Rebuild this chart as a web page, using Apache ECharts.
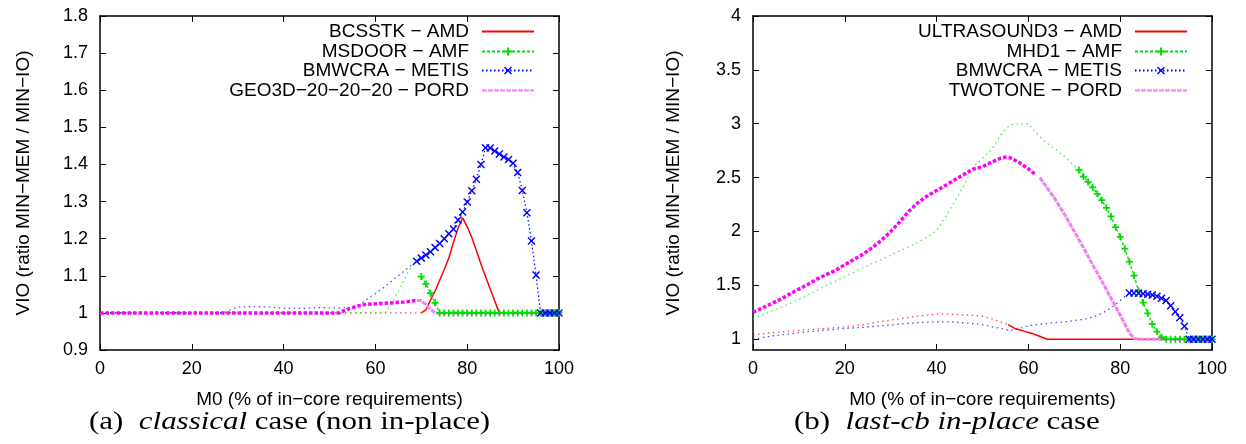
<!DOCTYPE html>
<html>
<head>
<meta charset="utf-8">
<script src="https://cdn.jsdelivr.net/npm/echarts@6/dist/echarts.min.js"></script>
<style>html,body{margin:0;padding:0;background:#fff;}#c{width:1246px;height:444px;}</style>
</head>
<body>
<div id="c"></div>
<script>
// ---------- DATA ----------
const xTicks = [0, 20, 40, 60, 80, 100];
const leftYTicks = [0.9, 1, 1.1, 1.2, 1.3, 1.4, 1.5, 1.6, 1.7, 1.8];
const rightYTicks = [1, 1.5, 2, 2.5, 3, 3.5, 4];

const leftNames = ['BCSSTK − AMD', 'MSDOOR − AMF', 'BMWCRA − METIS', 'GEO3D−20−20−20 − PORD'];
const rightNames = ['ULTRASOUND3 − AMD', 'MHD1 − AMF', 'BMWCRA − METIS', 'TWOTONE − PORD'];

// Panel (a) classical case
const aRedDot = [[0,1],[70,1]];
const aRedMain = [[70,1.0],[71,1.008],[72,1.034],[73,1.059],[74,1.088],[75,1.117],[76,1.148],[77,1.19],[78,1.228],[79,1.256],[80,1.232],[81,1.203],[82,1.168],[83,1.132],[84,1.098],[85,1.065],[86,1.032],[87,1.0],[100,1.0]];
const aGreenDot = [[0,1],[62,1],[63,1.015],[64,1.035],[65,1.058],[66,1.083],[67,1.107],[68,1.128],[69,1.14]];
const aGreenMain = [[70,1.098],[71,1.078],[72,1.053],[73,1.027],[74,1.0],[75,1.0],[76,1.0],[77,1.0],[78,1.0],[79,1.0],[80,1.0],[81,1.0],[82,1.0],[83,1.0],[84,1.0],[85,1.0],[86,1.0],[87,1.0],[88,1.0],[89,1.0],[90,1.0],[91,1.0],[92,1.0],[93,1.0],[94,1.0],[95,1.0],[96,1.0],[97,1.0],[98,1.0],[99,1.0],[100,1.0]];
const aBlueDot = [[0,1],[27,1],[28,1.006],[29,1.011],[30,1.016],[34,1.017],[37,1.016],[40,1.012],[44,1.012],[48,1.014],[52,1.013],[55,1.014],[56,1.02],[57,1.026],[58,1.035],[59,1.044],[60,1.052],[61,1.061],[62,1.07],[63,1.08],[64,1.091],[65,1.1],[66,1.11],[67,1.12],[68,1.13],[69,1.139]];
const aBlueMain = [[69,1.139],[70,1.148],[71,1.156],[72,1.165],[73,1.176],[74,1.187],[75,1.2],[76,1.213],[77,1.226],[78,1.25],[79,1.272],[80,1.299],[81,1.329],[82,1.36],[83,1.4],[84,1.445],[85,1.444],[86,1.436],[87,1.428],[88,1.42],[89,1.413],[90,1.403],[91,1.378],[92,1.33],[93,1.27],[94,1.194],[95,1.102],[96,1.0],[97,1.0],[98,1.0],[99,1.0],[100,1.0]];
const aMagDot = [[0,1],[52,1],[54,1.01],[56,1.018],[58,1.023],[62,1.026],[66,1.029],[69,1.034]];
const aMagMain = [[69,1.034],[70,1.033],[71,1.022],[72,1.01],[73,1.0],[100,1.0]];

// Panel (b) last-cb in-place case
const bRedDot = [[0,1.04],[4,1.06],[8,1.075],[12,1.09],[16,1.1],[20,1.115],[24,1.135],[28,1.165],[32,1.19],[36,1.215],[40,1.232],[42,1.235],[45,1.228],[48,1.222],[50,1.212],[52,1.19],[54,1.16],[55.6,1.135]];
const bRedMain = [[55.6,1.135],[56,1.125],[57,1.1],[58,1.088],[59,1.075],[60,1.062],[61,1.05],[62,1.035],[63,1.018],[64,1.0],[100,1.0]];
const bGreenDot = [[0,1.19],[4,1.26],[8,1.33],[12,1.41],[16,1.5],[20,1.58],[24,1.665],[28,1.74],[32,1.82],[36,1.9],[38,1.95],[40,2.01],[42,2.14],[44,2.28],[46,2.43],[48,2.6],[50,2.68],[52,2.76],[54,2.9],[56,2.99],[58,3.0],[60,3.0],[62,2.9],[64,2.82],[66,2.76],[68,2.69],[70,2.61],[71,2.57]];
const bGreenMain = [[71,2.57],[72,2.51],[73,2.46],[74,2.41],[75,2.35],[76,2.29],[77,2.22],[78,2.14],[79,2.04],[80,1.95],[81,1.84],[82,1.72],[83,1.59],[84,1.45],[85,1.34],[86,1.24],[87,1.14],[88,1.07],[89,1.02],[90,1.0],[91,1.0],[92,1.0],[93,1.0],[94,1.0],[95,1.0],[96,1.0],[97,1.0],[98,1.0],[99,1.0],[100,1.0]];
const bBlueDot = [[0,1.0],[4,1.03],[8,1.05],[12,1.07],[16,1.085],[20,1.1],[24,1.11],[28,1.125],[32,1.14],[36,1.155],[40,1.162],[44,1.16],[48,1.145],[50,1.135],[52,1.118],[54,1.1],[56,1.08],[58,1.1],[60,1.125],[64,1.147],[68,1.162],[72,1.185],[74,1.205],[76,1.24],[78,1.29],[80,1.36],[82,1.43]];
const bBlueMain = [[82,1.43],[83,1.43],[84,1.427],[85,1.422],[86,1.417],[87,1.41],[88,1.398],[89,1.38],[90,1.36],[91,1.31],[92,1.255],[93,1.2],[94,1.12],[95,1.0],[96,1.0],[97,1.0],[98,1.0],[99,1.0],[100,1.0]];
const bMagDot = [[0,1.25],[2,1.29],[4,1.33],[6,1.37],[8,1.42],[10,1.465],[12,1.51],[14,1.56],[16,1.6],[18,1.64],[20,1.69],[22,1.74],[24,1.79],[26,1.85],[28,1.92],[30,2.0],[32,2.09],[34,2.19],[36,2.27],[38,2.33],[40,2.38],[42,2.43],[44,2.48],[46,2.53],[48,2.58],[50,2.6],[52,2.645],[54,2.68],[55,2.69],[56,2.685],[58,2.64],[60,2.58],[61.5,2.53]];
const bMagMain = [[62.5,2.5],[64,2.41],[66,2.29],[68,2.15],[70,2.0],[72,1.85],[74,1.69],[76,1.54],[78,1.38],[80,1.225],[81,1.14],[82,1.06],[83,1.01],[84,1.0],[100,1.0]];

// ---------- STYLE ----------
const SANS = '"Liberation Sans", Arial, Helvetica, sans-serif';
const SERIF = '"Liberation Serif", "Times New Roman", serif';
const FS = 18;
const NFS = 19;
const RED = '#ff0000', GREEN = '#00dd00', BLUE = '#0000ff', MAG = '#ff00ff', PINK = '#f080f0';
const PLUS = 'path://M3,0H5V3H8V5H5V8H3V5H0V3H3Z';
const XMARK = 'path://M0,1L1,0L4,3L7,0L8,1L5,4L8,7L7,8L4,5L1,8L0,7L3,4Z';

function xAx(grid, top, name) {
  return {
    gridIndex: grid, type: 'value', min: 0, max: 100, interval: 20,
    position: top ? 'top' : 'bottom',
    axisLine: { show: true, onZero: false, lineStyle: { color: '#000', width: 1.5 } },
    axisTick: { show: true, inside: true, length: 6, lineStyle: { color: '#000', width: 1 } },
    axisLabel: { show: !top, color: '#000', fontSize: FS, fontFamily: SANS, margin: 10 },
    splitLine: { show: false },
    name: top ? '' : name, nameLocation: 'middle', nameGap: 40,
    nameTextStyle: { color: '#000', fontSize: NFS, fontFamily: SANS }
  };
}
function yAx(grid, right, opts) {
  const a = {
    gridIndex: grid, type: 'value', position: right ? 'right' : 'left',
    min: opts.min, max: opts.max,
    axisLine: { show: true, onZero: false, lineStyle: { color: '#000', width: 1.5 } },
    axisTick: { show: true, inside: true, length: 6, lineStyle: { color: '#000', width: 1 } },
    axisLabel: { show: !right, color: '#000', fontSize: FS, fontFamily: SANS, margin: 12 },
    splitLine: { show: false },
    name: right ? '' : 'VIO (ratio MIN−MEM / MIN−IO)', nameLocation: 'middle', nameGap: opts.gap,
    nameTextStyle: { color: '#000', fontSize: NFS, fontFamily: SANS }
  };
  if (opts.interval) a.interval = opts.interval;
  if (opts.custom) {
    a.axisLabel.customValues = opts.custom;
    a.axisTick.customValues = opts.custom;
  }
  return a;
}

function dotS(name, data, xi, yi, color) {
  return { name, type: 'line', xAxisIndex: xi, yAxisIndex: yi, data, symbol: 'none', z: 1,
    lineStyle: { color, width: 1.3, type: [1.5, 3.5], opacity: 0.7 }, silent: true };
}
function magDot(name, data, xi, yi) {
  return { name, type: 'line', xAxisIndex: xi, yAxisIndex: yi, data, symbol: 'none', z: 2,
    lineStyle: { color: MAG, width: 3.5, type: [3.5, 2] } };
}
function redMain(name, data, xi, yi) {
  return { name, type: 'line', xAxisIndex: xi, yAxisIndex: yi, data, symbol: 'none', z: 3,
    itemStyle: { color: RED }, lineStyle: { color: RED, width: 1.5 } };
}
function magMain(name, data, xi, yi) {
  return { name, type: 'line', xAxisIndex: xi, yAxisIndex: yi, data, symbol: 'none', z: 4,
    itemStyle: { color: PINK }, lineStyle: { color: PINK, width: 3, type: [5, 1] } };
}
function greenMain(name, data, xi, yi) {
  return { name, type: 'line', xAxisIndex: xi, yAxisIndex: yi, data, symbol: PLUS, symbolSize: 7,
    showAllSymbol: true, z: 5,
    itemStyle: { color: GREEN }, lineStyle: { color: GREEN, width: 1.3, type: [3, 2] } };
}
function blueMain(name, data, xi, yi) {
  return { name, type: 'line', xAxisIndex: xi, yAxisIndex: yi, data, symbol: XMARK, symbolSize: 8,
    showAllSymbol: true, z: 6,
    itemStyle: { color: BLUE }, lineStyle: { color: BLUE, width: 1.2, type: [1.5, 2.5] } };
}

const legendCenters = [32, 52, 71, 91];
const noSymbol = [true, false, false, true];
function legendItems(names, right) {
  return names.map((n, i) => ({
    data: [noSymbol[i] ? { name: n, itemStyle: { opacity: 0 } } : n],
    orient: 'horizontal', right: right, top: legendCenters[i] - 10, padding: 0,
    align: 'right', itemWidth: 52, itemHeight: 10, selectedMode: false,
    textStyle: { color: '#000', fontSize: NFS, fontFamily: SANS, padding: [0, 8, 0, 0] }
  }));
}

function caption(x, label, italic, rest) {
  return {
    type: 'text', x: x, y: 409, scaleX: 1.19, silent: true,
    style: {
      text: '{n|' + label + '}{i|' + italic + '}{n|' + rest + '}',
      rich: {
        n: { fontFamily: SERIF, fontSize: 26, fill: '#000', fontStyle: 'normal' },
        i: { fontFamily: SERIF, fontSize: 26, fill: '#000', fontStyle: 'italic' }
      },
      fill: '#000'
    }
  };
}

const option = {
  animation: false,
  backgroundColor: '#fff',
  graphic: [
    caption(89, '(a)  ', 'classical', ' case (non in-place)'),
    caption(794, '(b)  ', 'last-cb in-place', ' case')
  ],
  grid: [
    { left: 100, right: 687, top: 16, bottom: 94, containLabel: false },
    { left: 753, right: 34, top: 16, bottom: 94, containLabel: false }
  ],
  xAxis: [
    xAx(0, false, 'M0 (% of in−core requirements)'), xAx(0, true),
    xAx(1, false, 'M0 (% of in−core requirements)'), xAx(1, true)
  ],
  yAxis: [
    yAx(0, false, { min: 0.9, max: 1.8, interval: 0.1, gap: 67 }),
    yAx(0, true, { min: 0.9, max: 1.8, interval: 0.1 }),
    yAx(1, false, { min: 0.9, max: 4, custom: rightYTicks, gap: 70 }),
    yAx(1, true, { min: 0.9, max: 4, custom: rightYTicks })
  ],
  legend: legendItems(leftNames, 711).concat(legendItems(rightNames, 58)),
  series: [
    dotS('a-red-dot', aRedDot, 0, 0, RED),
    dotS('a-green-dot', aGreenDot, 0, 0, GREEN),
    dotS('a-blue-dot', aBlueDot, 0, 0, BLUE),
    magDot('a-mag-dot', aMagDot, 0, 0),
    redMain(leftNames[0], aRedMain, 0, 0),
    greenMain(leftNames[1], aGreenMain, 0, 0),
    blueMain(leftNames[2], aBlueMain, 0, 0),
    magMain(leftNames[3], aMagMain, 0, 0),

    dotS('b-red-dot', bRedDot, 2, 2, RED),
    dotS('b-green-dot', bGreenDot, 2, 2, GREEN),
    dotS('b-blue-dot', bBlueDot, 2, 2, BLUE),
    magDot('b-mag-dot', bMagDot, 2, 2),
    redMain(rightNames[0], bRedMain, 2, 2),
    greenMain(rightNames[1], bGreenMain, 2, 2),
    blueMain(rightNames[2] + ' ', bBlueMain, 2, 2),
    magMain(rightNames[3], bMagMain, 2, 2)
  ]
};

const chart = echarts.init(document.getElementById('c'), null, { renderer: 'canvas' });
chart.setOption(option);
</script>
</body>
</html>
